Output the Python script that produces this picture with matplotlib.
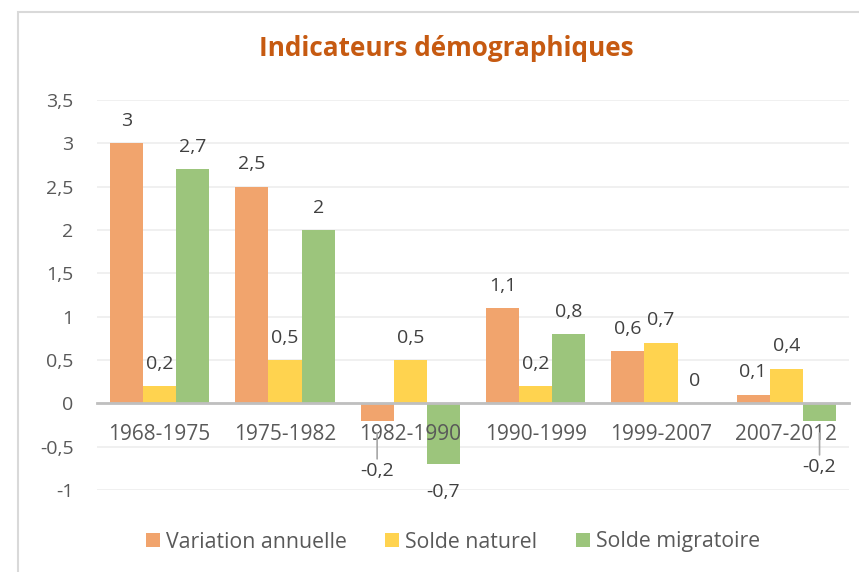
import matplotlib
matplotlib.use("Agg")
import matplotlib.pyplot as plt
from matplotlib.patches import Rectangle
from matplotlib.ticker import FuncFormatter
import numpy as np

plt.rcParams['font.family'] = ['Open Sans', 'DejaVu Sans']

# data
periods = ['1968-1975', '1975-1982', '1982-1990', '1990-1999', '1999-2007', '2007-2012']
variation_annuelle = [3, 2.5, -0.2, 1.1, 0.6, 0.1]
solde_naturel = [0.2, 0.5, 0.5, 0.2, 0.7, 0.4]
solde_migratoire = [2.7, 2, -0.7, 0.8, 0, -0.2]

series = [
    ('Variation annuelle', variation_annuelle, '#F1A46D'),
    ('Solde naturel', solde_naturel, '#FFD34F'),
    ('Solde migratoire', solde_migratoire, '#9CC57C'),
]

def fr(v):
    return ('%g' % v).replace('.', ',')

fig = plt.figure(figsize=(8.59, 5.72), dpi=100)
W, H = 859, 572
ax = fig.add_axes([97 / W, 1 - 490 / H, (849 - 97) / W, 390 / H])

# outer chart border
fig.patches.append(Rectangle((18 / W, -0.1), 1.0, 1 - 12 / H + 0.1, transform=fig.transFigure,
                             fill=False, edgecolor='#D9D9D9', linewidth=1.5))

x = np.arange(len(periods))
bw = 0.265
text_col = '#404040'

# labels pushed down with a leader line: (category index, series index) -> offset px
leaders = {(2, 0): -50, (5, 2): -46}

for i, (name, vals, col) in enumerate(series):
    xs = x + (i - 1) * bw
    ax.bar(xs, vals, width=bw, color=col, label=name, zorder=2)
    for j, (xx, v) in enumerate(zip(xs, vals)):
        if (j, i) in leaders:
            dy = leaders[(j, i)] * 0.72
            ax.annotate(fr(v), xy=(xx, v), xytext=(0, dy), textcoords='offset points',
                        ha='center', va='center', fontsize=14, color=text_col, zorder=6,
                        arrowprops=dict(arrowstyle='-', color='#A6A6A6', lw=1.2,
                                        shrinkA=0, shrinkB=9))
        else:
            dy = 16 if v >= 0 else -20
            ax.annotate(fr(v), xy=(xx, v), xytext=(0, dy), textcoords='offset points',
                        ha='center', va='center', fontsize=14, color=text_col, zorder=6)

ax.set_xlim(-0.5, len(periods) - 0.5)
ax.set_ylim(-1, 3.5)
ax.set_yticks(np.arange(-1, 3.51, 0.5))
ax.yaxis.set_major_formatter(FuncFormatter(lambda v, p: fr(round(v, 1))))
ax.set_xticks(x)
ax.set_xticklabels(periods)

ax.grid(axis='y', color='#EDEDED', linewidth=1.2, zorder=0)
ax.set_axisbelow(True)
for s in ['top', 'right', 'left']:
    ax.spines[s].set_visible(False)
ax.spines['bottom'].set_position(('data', 0))
ax.spines['bottom'].set_color('#BFBFBF')
ax.spines['bottom'].set_linewidth(2)
ax.spines['bottom'].set_zorder(3)
ax.xaxis.set_zorder(5)  # category labels drawn over the negative bars
ax.tick_params(axis='x', length=0, pad=15, labelsize=15, labelcolor='#595959')
ax.tick_params(axis='y', length=0, pad=17, labelsize=14, labelcolor='#595959')

fig.text(446 / W, 1 - 48 / H, 'Indicateurs démographiques', ha='center', va='center',
         fontsize=18.8, fontweight='bold', color='#C65A11')

fig.legend(loc='center', bbox_to_anchor=(453 / W, 1 - 542 / H), ncol=3, frameon=False,
           fontsize=15.3, labelcolor='#595959', handlelength=0.65, handleheight=0.65,
           handletextpad=0.3, columnspacing=1.8)

fig.savefig('out.png', dpi=100)
